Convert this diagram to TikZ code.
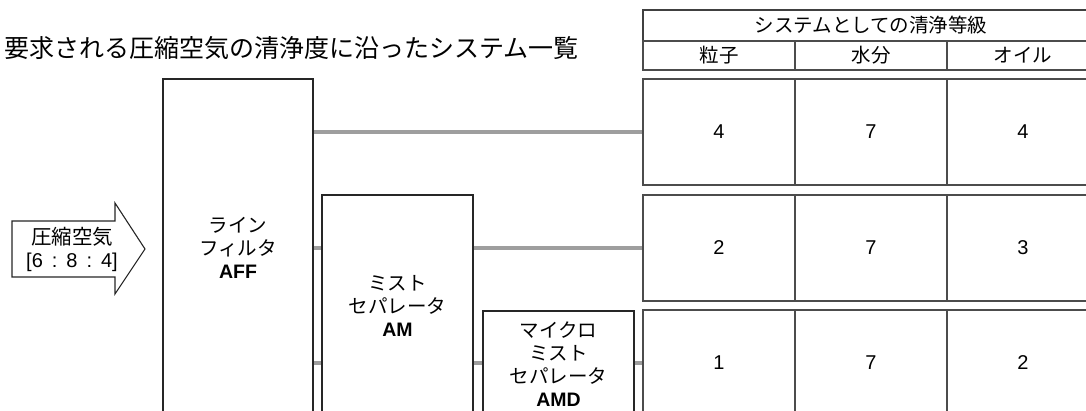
\documentclass[tikz,border=0pt]{standalone}
\usepackage{fontspec}
\setmainfont{Liberation Sans}
\newfontfamily\jp{Noto Sans CJK JP}
\begin{document}
\begin{tikzpicture}[x=1pt,y=-1pt,
  box/.style={draw=black!85, line width=1.3pt, fill=white, inner sep=0pt,
    font=\jp\fontsize{19.5}{23}\selectfont, align=center},
  cell/.style={draw=black!70, line width=1.3pt, inner sep=0pt,
    minimum width=152pt, minimum height=106pt, font=\fontsize{20}{24}\selectfont},
  hcell/.style={draw=black!70, line width=1.3pt, inner sep=0pt,
    minimum width=152pt, minimum height=29pt, font=\jp\fontsize{19.5}{23}\selectfont},
  pipe/.style={draw=black!38, line width=4pt, shorten <=0.6pt, shorten >=0.6pt},
  lbl/.style={inner sep=0pt, align=center}
]
\useasboundingbox (0,0) rectangle (1086,411);
\clip (0,0) rectangle (1086,411);

% title
\node[lbl, anchor=west, font=\jp\fontsize{25}{29}\selectfont] (title) at (4,48)
  {要求される圧縮空気の清浄度に沿ったシステム一覧};

% header table
\node[draw=black!75, line width=1.3pt, inner sep=0pt, minimum width=456pt, minimum height=31pt,
  font=\jp\fontsize{19.5}{23}\selectfont] (head) at (871,25.5) {システムとしての清浄等級};
\node[hcell] (hA) at (719,55.5) {粒子};
\node[hcell] (hB) at (871,55.5) {水分};
\node[hcell] (hC) at (1023,55.5) {オイル};

% value rows
\node[cell] (r1a) at (719,132) {4};
\node[cell] (r1b) at (871,132) {7};
\node[cell] (r1c) at (1023,132) {4};
\node[cell] (r2a) at (719,248) {2};
\node[cell] (r2b) at (871,248) {7};
\node[cell] (r2c) at (1023,248) {3};
\node[cell] (r3a) at (719,363) {1};
\node[cell] (r3b) at (871,363) {7};
\node[cell] (r3c) at (1023,363) {2};

% inlet arrow
\draw[draw=black!85, line width=1.1pt, fill=white]
  (12,221) -- (115,221) -- (115,203) -- (145,249) -- (115,294) -- (115,277) -- (12,277) -- cycle;
\node[lbl, font=\fontsize{20}{23}\selectfont] (air) at (72,249.5)
  {{\jp\fontsize{20.5}{23}\selectfont 圧縮空気}\\{}[6\hspace{0.45em}:\hspace{0.45em}8\hspace{0.45em}:\hspace{0.45em}4]};

% filter boxes
\node[box, minimum width=150pt, minimum height=338pt] (aff) at (238,248)
  {ライン\\フィルタ\\{\rmfamily\bfseries AFF}};
\node[box, minimum width=151pt, minimum height=222pt] (am) at (397.5,306)
  {ミスト\\セパレータ\\{\rmfamily\bfseries AM}};
\node[box, minimum width=151pt, minimum height=106pt] (amd) at (558.5,364)
  {マイクロ\\ミスト\\セパレータ\\{\rmfamily\bfseries AMD}};

% pipes
\draw[pipe] (aff.east |- r1a) -- (r1a.west);
\draw[pipe] (aff.east |- r2a) -- (am.west |- r2a);
\draw[pipe] (am.east |- r2a) -- (r2a.west);
\draw[pipe] (aff.east |- r3a) -- (am.west |- r3a);
\draw[pipe] (am.east |- r3a) -- (amd.west |- r3a);
\draw[pipe] (amd.east |- r3a) -- (r3a.west);
\end{tikzpicture}
\end{document}
